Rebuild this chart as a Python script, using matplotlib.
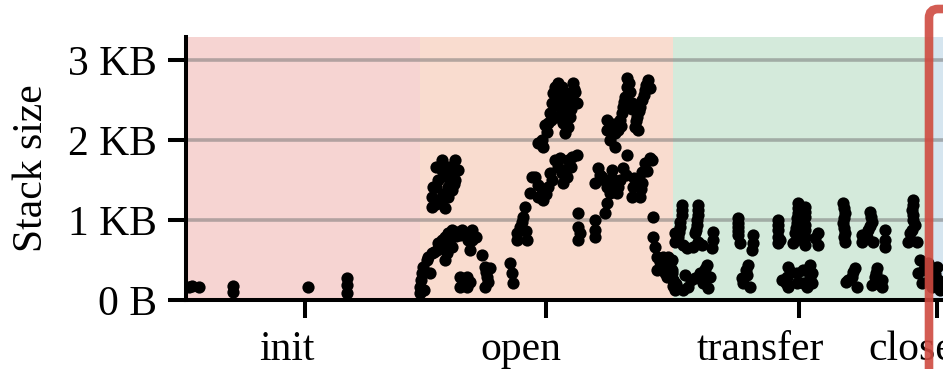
import matplotlib

matplotlib.use("Agg")
import matplotlib.pyplot as plt
from matplotlib.patches import FancyBboxPatch
from matplotlib.transforms import IdentityTransform

plt.rcParams["font.family"] = ["Liberation Serif", "DejaVu Serif"]
plt.rcParams["font.size"] = 30

# phases: name, start, end (sample time)
phase_names = ["init", "open", "transfer", "close"]
phase_bounds = [0, 234, 487, 747, 814]
phase_colors = ["#f6d4d2", "#f9dccf", "#d4eadb", "#d5e5ef"]
phase_ticks = [119, 360, 613, 751]
phase_label_pos = [101, 335, 574, 725]

# stack samples: time and stack size in bytes
init_t = [3, 6, 13, 47, 47, 122, 161, 161, 161]
init_b = [166, 179, 166, 179, 102, 166, 282, 192, 90]

open_t = [
    234, 234, 235, 236, 237, 241, 242, 246, 251, 252, 256, 259, 262, 266, 271, 274,
    276, 279, 282, 286, 286, 284, 296, 259, 261, 266, 244, 238,
    248, 256, 264, 270, 280, 290,
    274, 274, 281, 281, 299, 301, 299, 304, 324, 326, 327, 277, 284, 300, 302,
    256, 269, 256, 272, 252, 269, 247, 266, 246, 262, 246, 259, 254, 261,
    250, 263, 258, 250, 262, 257, 250, 264, 268,
    346, 344, 339, 337, 334, 331, 341, 331, 352, 352, 336, 340,
    349, 356, 357, 362, 364, 369, 374, 379, 382, 386, 391, 381, 377,
    352, 360, 366, 372, 385, 376,
    356, 357, 359, 364, 366, 367, 369, 372, 376, 372, 374, 377, 379, 382, 384,
    381, 386, 387, 389, 391, 362, 371, 377,
    361, 365, 370, 375, 380, 385, 388, 384, 379,
    392, 392, 392, 409, 409, 409, 394,
    412, 409, 416, 421, 426, 429, 431, 434, 424, 421, 419, 437, 441, 429, 447,
    446, 454, 456, 456, 459, 464, 466, 451,
    418, 426, 432, 423, 414, 427, 440, 448, 461, 455,
    421, 421, 426, 429, 432, 434, 436, 437, 439, 441, 441, 444, 446, 449, 451,
    454, 456, 459, 462, 464, 452, 424,
    424, 428, 435, 438, 443, 446, 450, 458, 460, 453,
    467, 467, 471, 471, 476, 479, 482, 484, 487, 489, 481, 477, 479, 486, 489, 484,
    469, 474, 478, 483, 487, 485,
]
open_b = [
    90, 166, 256, 346, 422, 512, 550, 602, 640, 730, 768, 806, 858, 896, 870, 832,
    896, 858, 768, 896, 768, 640, 576, 512, 602, 678, 346, 128,
    620, 700, 780, 820, 830, 810,
    294, 166, 294, 166, 422, 294, 166, 410, 474, 346, 218, 230, 230, 360, 230,
    1792, 1792, 1664, 1664, 1536, 1536, 1446, 1408, 1318, 1318, 1190, 1178, 1280, 1574,
    1700, 1700, 1620, 1450, 1450, 1360, 1230, 1600, 1480,
    1574, 1370, 1190, 1062, 934, 858, 768, 768, 2010, 1318, 1000, 880,
    1574, 1370, 1280, 1446, 1626, 1792, 1818, 1664, 1792, 1830, 1856, 1574, 1498,
    1470, 1360, 1540, 1700, 1700, 1620,
    2048, 1958, 2240, 2394, 2522, 2650, 2726, 2778, 2726, 2560, 2470, 2266, 2138, 2214, 2342,
    2522, 2598, 2778, 2662, 2522, 2266, 2342, 2406,
    2150, 2300, 2500, 2620, 2400, 2450, 2700, 2650, 2300,
    1114, 934, 768, 1024, 896, 806, 858,
    1690, 1498, 1574, 1446, 1664, 1498, 1370, 1536, 1370, 1242, 1114, 1690, 1856, 1958, 1446,
    1318, 1318, 1498, 1638, 1754, 1818, 1792, 1498,
    1540, 1560, 1440, 1450, 1600, 1390, 1600, 1560, 1650, 1420,
    2304, 2176, 2202, 2138, 2176, 2304, 2394, 2470, 2598, 2726, 2842, 2662, 2522, 2214, 2342,
    2470, 2560, 2688, 2816, 2714, 2176, 2048,
    2250, 2250, 2230, 2540, 2780, 2440, 2290, 2620, 2750, 2420,
    1062, 806, 550, 384, 512, 346, 550, 422, 256, 128, 294, 550, 422, 346, 218, 474,
    680, 480, 450, 380, 180, 300,
]

transfer_t = [
    496, 496, 494, 492, 497, 501, 489, 489, 496, 494, 493,
    512, 512, 511, 509, 512, 507, 516, 512, 511, 510,
    527, 527, 526,
    552, 552, 552, 554, 567, 567, 566, 552, 552,
    592, 592, 592, 594, 592, 592,
    612, 612, 611, 609, 607, 616, 617, 612, 611, 610,
    486, 486, 487, 491, 499, 502, 509, 514, 517, 521, 524, 522, 497,
    490, 505, 512, 519, 520,
    562, 561, 556, 564, 557, 560,
    602, 601, 596, 602, 611, 611, 617, 617, 605, 600,
    619, 619, 619, 619, 632, 632, 629, 619, 619, 619,
    657, 659, 657, 659, 659, 676, 676, 684, 686, 682, 681, 687, 699, 699, 699,
    658, 658, 658, 658, 685, 684,
    727, 726, 727, 729, 724, 722, 731, 727, 727, 726,
    624, 626, 626, 621, 669, 666, 662, 671, 691, 689, 696, 696, 686, 624,
    660, 667, 690, 693,
    734, 732, 736, 742, 744, 746, 740, 738,
]
transfer_b = [
    1216, 1088, 934, 806, 704, 666, 858, 742, 1150, 1000, 870,
    1216, 1088, 960, 858, 742, 678, 704, 1150, 1020, 900,
    870, 768, 666,
    1050, 934, 832, 730, 832, 730, 640, 990, 880,
    1024, 896, 730, 768, 960, 810,
    1242, 1114, 986, 858, 730, 768, 896, 1180, 1050, 920,
    512, 384, 256, 154, 320, 166, 282, 346, 218, 448, 294, 154, 128,
    200, 250, 300, 400, 280,
    448, 320, 282, 166, 218, 380,
    422, 294, 256, 166, 346, 218, 384, 218, 360, 220,
    1190, 1062, 896, 704, 858, 704, 794, 1130, 960, 800,
    1242, 1114, 986, 858, 742, 832, 742, 1126, 998, 896, 806, 742, 896, 768, 678,
    1180, 1050, 920, 800, 1060, 950,
    1280, 1152, 1024, 960, 858, 742, 742, 1210, 1090, 900,
    448, 346, 218, 166, 410, 294, 256, 166, 410, 294, 256, 166, 192, 300,
    230, 360, 350, 200,
    512, 346, 218, 474, 294, 166, 380, 400,
]

close_t = [751, 752, 754, 749, 756, 748]
close_b = [422, 256, 128, 330, 200, 200]

W, H, DPI = 943, 369, 100
fig = plt.figure(figsize=(W / DPI, H / DPI), dpi=DPI)
ax = fig.add_axes([186 / W, 69 / H, (1000 - 186) / W, 263 / H])

for name, x0, x1, c in zip(phase_names, phase_bounds[:-1], phase_bounds[1:], phase_colors):
    ax.axvspan(x0, x1, color=c, lw=0, zorder=0.5)

ax.set_axisbelow("line")
ax.yaxis.grid(True, color="#707070", alpha=0.5, lw=2.6)

for ts, bs in [(init_t, init_b), (open_t, open_b), (transfer_t, transfer_b), (close_t, close_b)]:
    ax.plot(ts, bs, "o", color="black", ms=8.8, mew=0, zorder=3)

ax.set_xlim(phase_bounds[0], phase_bounds[-1])
ax.set_ylim(0, 3366)
ax.set_yticks([0, 1024, 2048, 3072])
ax.set_yticklabels(["0 B", "1 KB", "2 KB", "3 KB"])
ax.set_ylabel("Stack size", labelpad=12)

ax.set_xticks(phase_label_pos)
ax.set_xticklabels(phase_names)
ax.set_xticks(phase_ticks, minor=True)
ax.tick_params(axis="x", which="major", length=0, pad=22)
ax.tick_params(axis="x", which="minor", length=13, width=2.9)
ax.tick_params(axis="y", length=13, width=2.9, pad=8)

for side in ["top", "right"]:
    ax.spines[side].set_visible(False)
for side in ["left", "bottom"]:
    ax.spines[side].set_linewidth(2.9)

# highlight box around the close phase (runs off the figure edge)
box = FancyBboxPatch((929, -30), 100, 390, boxstyle="round,pad=0,rounding_size=9",
                     transform=IdentityTransform(), fill=False,
                     edgecolor="#cf4a40", alpha=0.9, lw=6.2, zorder=10)
fig.patches.append(box)

fig.savefig("out.png", dpi=DPI)
